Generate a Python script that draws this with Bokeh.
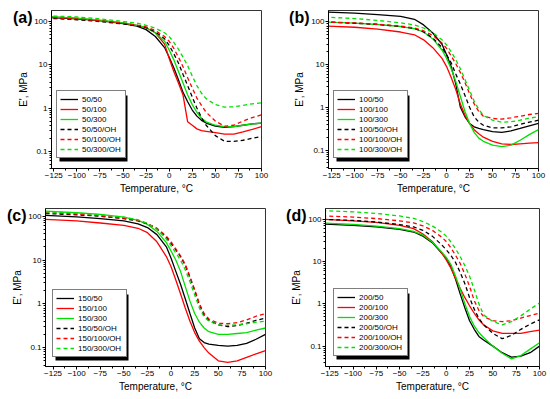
from bokeh.plotting import figure
from bokeh.models import (FixedTicker, Legend, LegendItem, BoxAnnotation, LinearAxis,
                          Range1d, CustomJSTickFormatter)
from bokeh.layouts import column, row
from bokeh.embed import file_html
from bokeh.resources import INLINE

FONT = "Liberation Sans"

# Temperature grid (deg C)
T = [-133, -100, -75, -50, -35, -25, -15, -5, 0, 5, 10, 15, 20, 25, 30, 35, 40, 50, 60, 70, 80, 90, 100]

# ---- panel (a) ----
a_labels = ["50/50", "50/100", "50/300", "50/50/OH", "50/100/OH", "50/300/OH"]
a_50_50 = [125, 115, 105, 90, 78, 65, 45, 25, 15, 8.5, 4.5, 2.3, 1.4, 0.9, 0.65, 0.52, 0.45, 0.38, 0.36, 0.37, 0.40, 0.43, 0.45]
a_50_100 = [130, 118, 105, 92, 82, 72, 55, 30, 14, 7, 3.8, 2.0, 0.48, 0.40, 0.33, 0.30, 0.29, 0.27, 0.25, 0.25, 0.28, 0.32, 0.37]
a_50_300 = [130, 120, 108, 93, 82, 72, 55, 35, 22, 13, 7, 3.8, 2.0, 1.2, 0.8, 0.58, 0.48, 0.40, 0.37, 0.37, 0.40, 0.43, 0.45]
a_50_50_oh = [120, 110, 100, 88, 80, 72, 58, 40, 28, 18, 11, 6, 3.3, 1.8, 1.0, 0.6, 0.4, 0.23, 0.17, 0.17, 0.18, 0.20, 0.22]
a_50_100_oh = [125, 115, 105, 92, 83, 75, 62, 45, 35, 24, 15, 9, 5, 2.9, 1.7, 1.15, 0.8, 0.5, 0.38, 0.40, 0.50, 0.60, 0.70]
a_50_300_oh = [135, 128, 115, 100, 92, 82, 70, 55, 45, 33, 23, 15, 9.5, 5.5, 3.3, 2.2, 1.65, 1.2, 1.05, 1.07, 1.15, 1.25, 1.32]

# ---- panel (b) ----
b_labels = ["100/50", "100/100", "100/300", "100/50/OH", "100/100/OH", "100/300/OH"]
b_100_50 = [170, 160, 148, 135, 115, 85, 55, 30, 17, 9, 3.5, 1.0, 0.6, 0.42, 0.35, 0.32, 0.3, 0.27, 0.26, 0.28, 0.32, 0.37, 0.42]
b_100_100 = [80, 75, 68, 58, 50, 38, 25, 14, 9, 5, 2.6, 1.2, 0.65, 0.42, 0.3, 0.24, 0.2, 0.16, 0.14, 0.135, 0.14, 0.145, 0.15]
b_100_300 = [100, 94, 87, 78, 70, 58, 40, 22, 14, 8, 4, 1.8, 0.8, 0.42, 0.26, 0.19, 0.16, 0.13, 0.12, 0.13, 0.17, 0.23, 0.3]
b_100_50_oh = [100, 93, 87, 78, 70, 58, 42, 25, 17, 11, 6, 3.5, 1.9, 1.0, 0.6, 0.45, 0.38, 0.33, 0.33, 0.35, 0.4, 0.45, 0.5]
b_100_100_oh = [100, 95, 88, 80, 72, 62, 48, 32, 24, 16, 10.5, 6.5, 3.8, 2.1, 1.2, 0.8, 0.62, 0.55, 0.53, 0.57, 0.62, 0.68, 0.72]
b_100_300_oh = [130, 120, 108, 95, 85, 72, 56, 38, 29, 20, 13, 8, 4.5, 2.5, 1.4, 0.9, 0.65, 0.5, 0.45, 0.46, 0.5, 0.56, 0.6]

# ---- panel (c) ----
c_labels = ["150/50", "150/100", "150/300", "150/50/OH", "150/100/OH", "150/300/OH"]
c_150_50 = [105, 97, 88, 78, 67, 55, 38, 20, 11, 5.5, 2.8, 1.3, 0.6, 0.28, 0.16, 0.13, 0.12, 0.112, 0.108, 0.112, 0.125, 0.155, 0.2]
c_150_100 = [85, 78, 70, 62, 53, 42, 26, 12, 7, 3.5, 1.7, 0.8, 0.4, 0.22, 0.14, 0.1, 0.075, 0.05, 0.046, 0.05, 0.06, 0.072, 0.085]
c_150_300 = [130, 120, 110, 95, 80, 65, 45, 25, 16, 10, 5.5, 2.5, 1.15, 0.6, 0.38, 0.28, 0.23, 0.2, 0.2, 0.21, 0.22, 0.25, 0.28]
c_150_50_oh = [115, 108, 100, 88, 78, 67, 52, 33, 24, 17, 12, 7.5, 4, 2, 0.95, 0.55, 0.42, 0.33, 0.3, 0.32, 0.36, 0.42, 0.47]
c_150_100_oh = [120, 112, 102, 90, 80, 68, 53, 35, 26, 18, 12.5, 8, 4.2, 2.1, 1.0, 0.6, 0.45, 0.36, 0.35, 0.37, 0.43, 0.52, 0.6]
c_150_300_oh = [125, 118, 108, 95, 83, 68, 50, 30, 21, 14.5, 10, 6, 3.2, 1.6, 0.8, 0.5, 0.4, 0.33, 0.32, 0.33, 0.35, 0.38, 0.4]

# ---- panel (d) ----
d_labels = ["200/50", "200/100", "200/300", "200/50/OH", "200/100/OH", "200/300/OH"]
d_200_50 = [77, 72, 66, 58, 50, 40, 28, 16, 12, 7.5, 3.8, 1.7, 0.8, 0.4, 0.25, 0.17, 0.14, 0.1, 0.07, 0.055, 0.058, 0.07, 0.1]
d_200_100 = [100, 92, 85, 72, 60, 45, 30, 16, 11, 7, 4, 2.3, 1.4, 0.9, 0.6, 0.42, 0.32, 0.23, 0.2, 0.2, 0.2, 0.22, 0.24]
d_200_300 = [82, 76, 69, 60, 52, 42, 29, 17, 12.5, 8.5, 4.5, 2.2, 1.0, 0.5, 0.3, 0.21, 0.16, 0.1, 0.068, 0.05, 0.06, 0.085, 0.12]
d_200_50_oh = [100, 94, 86, 75, 66, 55, 40, 25, 19, 14, 9.5, 5.5, 3, 1.4, 0.75, 0.45, 0.32, 0.2, 0.15, 0.18, 0.25, 0.33, 0.42]
d_200_100_oh = [120, 113, 104, 92, 82, 70, 55, 38, 30, 21, 14, 9, 5, 2.6, 1.2, 0.7, 0.5, 0.4, 0.38, 0.4, 0.46, 0.53, 0.6]
d_200_300_oh = [160, 150, 138, 120, 105, 88, 70, 50, 40, 29, 20, 13, 8, 4.5, 2.2, 1.0, 0.55, 0.38, 0.32, 0.38, 0.52, 0.75, 1.05]

x_ticks = [-125, -100, -75, -50, -25, 0, 25, 50, 75, 100]
y_ticks = [0.1, 1, 10, 100]

COLORS = ["#000000", "#ff0000", "#00e000", "#000000", "#ff0000", "#00e000"]
DASHES = ["solid", "solid", "solid", "4 3", "4 3", "4 3"]


def style_axis(ax):
    ax.axis_label_text_font = FONT
    ax.axis_label_text_font_style = "normal"
    ax.axis_label_text_font_size = "10px"
    ax.axis_label_text_color = "black"
    ax.major_label_text_font = FONT
    ax.major_label_text_font_size = "8px"
    ax.major_label_text_color = "black"
    ax.axis_line_color = "black"
    ax.major_tick_line_color = "black"
    ax.minor_tick_line_color = "black"
    ax.major_tick_out = 3
    ax.major_tick_in = 0
    ax.minor_tick_out = 2
    ax.minor_tick_in = 0


def panel(tag, labels, series, xr, yr, w, h, bl, br, bt, bb, leg_loc, lab_w):
    p = figure(width=w, height=h, x_range=Range1d(*xr), y_range=Range1d(*yr),
               y_axis_type="log", output_backend="svg", toolbar_location=None,
               min_border_left=bl, min_border_right=br, min_border_top=bt,
               min_border_bottom=bb)
    p.grid.visible = False
    p.outline_line_color = "#333333"
    p.background_fill_color = "white"
    p.border_fill_color = "white"

    minor_x = [v + 12.5 for v in x_ticks[:-1]]
    p.xaxis.ticker = FixedTicker(ticks=x_ticks, minor_ticks=minor_x)
    minor_y = []
    for dec in [0.01, 0.1, 1, 10, 100]:
        for k in range(2, 10):
            minor_y.append(round(dec * k, 4))
    p.yaxis.ticker = FixedTicker(ticks=y_ticks, minor_ticks=minor_y)
    p.yaxis.formatter = CustomJSTickFormatter(code="return String(tick)")

    style_axis(p.xaxis[0])
    style_axis(p.yaxis[0])
    p.xaxis.axis_label = "Temperature, \u00b0C"
    p.xaxis.major_label_standoff = 1
    p.xaxis.axis_label_standoff = 2
    p.yaxis.major_label_standoff = 1

    # outer left axis: carries the panel tag (as its only tick label) and the y title
    tag_axis = LinearAxis(ticker=FixedTicker(ticks=[yr[1] * 0.7], minor_ticks=[]),
                          formatter=CustomJSTickFormatter(code="return '%s'" % tag))
    style_axis(tag_axis)
    tag_axis.axis_line_color = None
    tag_axis.major_tick_line_color = None
    tag_axis.minor_tick_line_color = None
    tag_axis.major_tick_out = 0
    tag_axis.minor_tick_out = 0
    tag_axis.major_label_standoff = -1
    tag_axis.major_label_text_font_size = "16px"
    tag_axis.major_label_text_font_style = "bold"
    tag_axis.axis_label = "E', MPa"
    tag_axis.axis_label_standoff = -19
    p.add_layout(tag_axis, "left")

    rends = []
    for ys, c, d in zip(series, COLORS, DASHES):
        r = p.line(T, ys, line_color=c, line_width=1.3, line_dash=d)
        rends.append(r)

    # legend with drop shadow
    gw, pad, rowh = 18, 3, 10
    W = 2 * pad + gw + 4 + lab_w
    H = 2 * pad + 6 * rowh
    lx, ly = leg_loc
    shadow = BoxAnnotation(left=lx + 3, right=lx + W + 3, bottom=ly - 3, top=ly + H - 3,
                           left_units="screen", right_units="screen",
                           bottom_units="screen", top_units="screen",
                           fill_color="black", fill_alpha=1, line_color=None)
    p.add_layout(shadow)
    legend = Legend(items=[LegendItem(label=l, renderers=[r]) for l, r in zip(labels, rends)],
                    location=leg_loc, padding=pad, spacing=0, margin=0,
                    glyph_width=gw, glyph_height=rowh, label_height=rowh,
                    label_width=lab_w, label_standoff=4,
                    label_text_font=FONT, label_text_font_size="8px",
                    label_text_color="black",
                    border_line_color="black", border_line_width=1,
                    background_fill_color="white", background_fill_alpha=1)
    p.add_layout(legend)
    return p


pa = panel("(a)", a_labels, [a_50_50, a_50_100, a_50_300, a_50_50_oh, a_50_100_oh, a_50_300_oh],
           (-127.5, 100), (0.04, 180), 275, 200, 51, 14, 10, 32, (5, 10), 40)
pb = panel("(b)", b_labels, [b_100_50, b_100_100, b_100_300, b_100_50_oh, b_100_100_oh, b_100_300_oh],
           (-128.5, 100), (0.037, 185), 274, 200, 53, 11, 10, 30, (5, 10), 45)
pc = panel("(c)", c_labels, [c_150_50, c_150_100, c_150_300, c_150_50_oh, c_150_100_oh, c_150_300_oh],
           (-133, 100), (0.037, 150), 275, 198, 45, 10, 8, 32, (7, 9), 45)
pd = panel("(d)", d_labels, [d_200_50, d_200_100, d_200_300, d_200_50_oh, d_200_100_oh, d_200_300_oh],
           (-129.5, 100), (0.033, 180), 274, 198, 50, 10, 4, 31, (8, 10), 45)

layout = column(row(pa, pb), row(pc, pd))
open("out.html", "w").write(file_html(layout, INLINE))
